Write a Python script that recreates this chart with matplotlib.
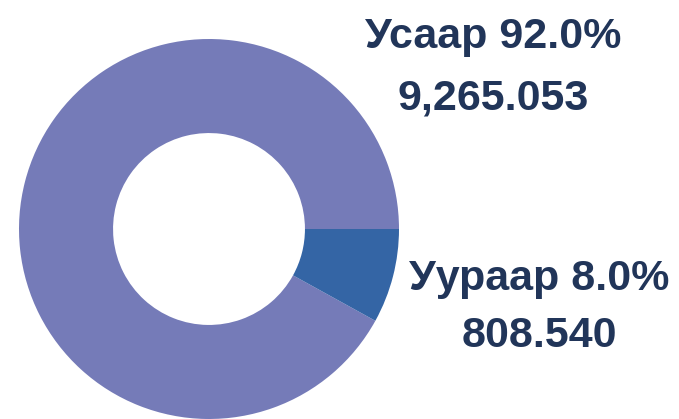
import matplotlib
matplotlib.use("Agg")
import matplotlib.pyplot as plt

labels = ["Усаар", "Уураар"]
values = [9265.053, 808.540]
value_text = ["9,265.053", "808.540"]
colors = ["#757BB8", "#3465A5"]

W, H = 679, 419
fig = plt.figure(figsize=(W / 100, H / 100), dpi=100)
# donut centre (209, 229) px, radius 190 px
ax = fig.add_axes([19 / W, 0, 380 / W, 380 / H])
ax.pie(values, colors=colors, startangle=0, counterclock=True, radius=1,
       wedgeprops=dict(width=0.495, linewidth=0))
ax.set_xlim(-1, 1)
ax.set_ylim(-1, 1)
ax.set_aspect("equal")
ax.axis("off")

total = sum(values)
pct = [v / total * 100 for v in values]
txt_color = "#213559"
font = dict(family="Liberation Sans", weight="bold", size=31, color=txt_color,
            ha="center", va="baseline")

# label positions (centre x, baseline y of both lines) in px
pos = [(493, 48, 110), (539, 290, 347)]
for lab, p, vt, (cx, y1, y2) in zip(labels, pct, value_text, pos):
    fig.text(cx / W, 1 - y1 / H, f"{lab} {p:.1f}%", **font)
    fig.text(cx / W, 1 - y2 / H, vt, **font)

fig.savefig("out.png", dpi=100)
